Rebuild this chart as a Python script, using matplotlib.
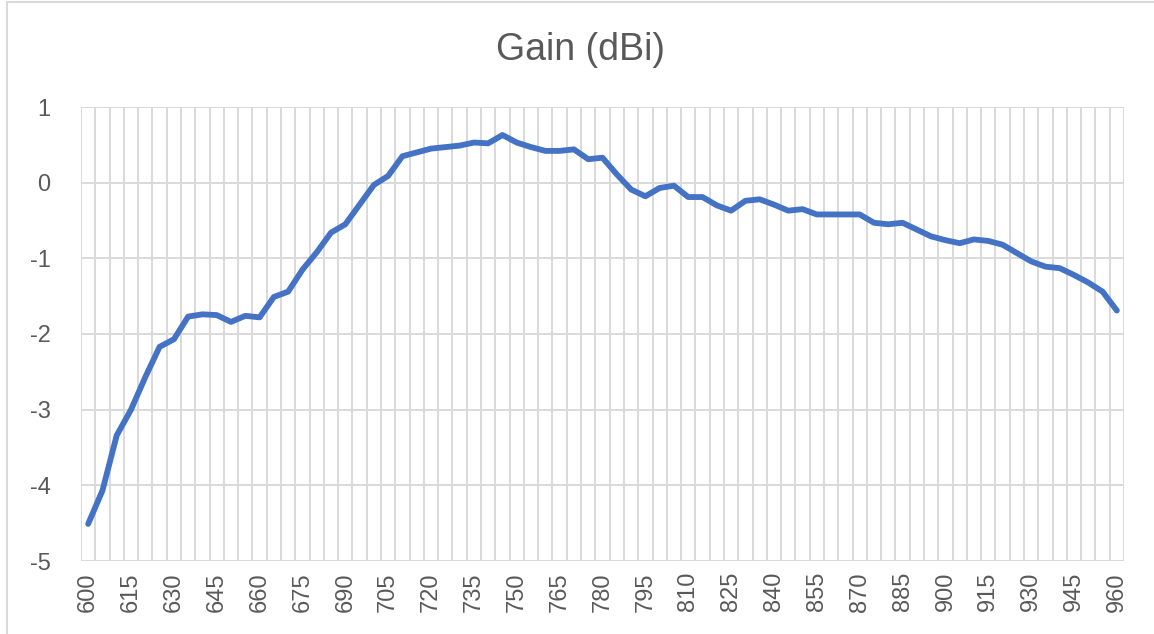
import matplotlib
matplotlib.use("Agg")
import matplotlib.pyplot as plt
from matplotlib.lines import Line2D
import numpy as np

# Data
freqs = list(range(600, 961, 5))
gain = [-4.51, -4.07, -3.34, -3.00, -2.57, -2.17, -2.07, -1.77, -1.74, -1.75,
        -1.84, -1.76, -1.78, -1.51, -1.44, -1.15, -0.92, -0.66, -0.55, -0.29,
        -0.03, 0.09, 0.35, 0.40, 0.45, 0.47, 0.49, 0.53, 0.52, 0.63,
        0.53, 0.47, 0.42, 0.42, 0.44, 0.31, 0.33, 0.11, -0.09, -0.18,
        -0.07, -0.04, -0.19, -0.19, -0.30, -0.37, -0.24, -0.22, -0.29, -0.37,
        -0.35, -0.42, -0.42, -0.42, -0.42, -0.53, -0.55, -0.53, -0.62, -0.71,
        -0.76, -0.80, -0.75, -0.77, -0.82, -0.93, -1.04, -1.11, -1.13, -1.22,
        -1.32, -1.44, -1.69]
title = "Gain (dBi)"
y_ticks = [-5, -4, -3, -2, -1, 0, 1]

plt.rcParams['font.family'] = ['Liberation Sans', 'DejaVu Sans']
plt.rcParams['axes.unicode_minus'] = False

W, H = 1154, 634
fig = plt.figure(figsize=(W / 100, H / 100), dpi=100)

# Partial chart-area border (top and left edges visible in the reference)
fig.lines.append(Line2D([7 / W, 1], [1 - 1.5 / H, 1 - 1.5 / H], transform=fig.transFigure,
                        color='#D9D9D9', linewidth=1.5))
fig.lines.append(Line2D([7 / W, 7 / W], [0, 1 - 1.5 / H], transform=fig.transFigure,
                        color='#D9D9D9', linewidth=1.5))

left, right, top, bottom = 81, 1124, 107, 561
ax = fig.add_axes([left / W, (H - bottom) / H, (right - left) / W, (bottom - top) / H])

x = np.arange(len(freqs))
ax.plot(x, gain, color='#4472C4', linewidth=4.2, solid_capstyle='round', solid_joinstyle='round', zorder=3)

ax.set_xlim(-0.5, len(freqs) - 0.5)
ax.set_ylim(-5, 1)
ax.set_yticks(y_ticks)
ax.set_yticklabels([str(v) for v in y_ticks])

ax.set_xticks(x[::3])
ax.set_xticklabels([str(f) for f in freqs[::3]], rotation=90)

ax.grid(False)
for yv in y_ticks:
    ax.axhline(yv, color='#D9D9D9', linewidth=1.4, zorder=1)
for xv in np.arange(-0.5, len(freqs), 1.0):
    ax.axvline(xv, color='#D9D9D9', linewidth=1.4, zorder=1)

for s in ax.spines.values():
    s.set_visible(False)

ax.tick_params(axis='both', which='both', length=0, colors='#595959', labelsize=17)
ax.tick_params(axis='y', pad=22)
ax.tick_params(axis='x', pad=8)

fig.text(580 / W, 1 - 50 / H, title, ha='center', va='center', fontsize=27, color='#595959')

fig.savefig('out.png', dpi=100)
